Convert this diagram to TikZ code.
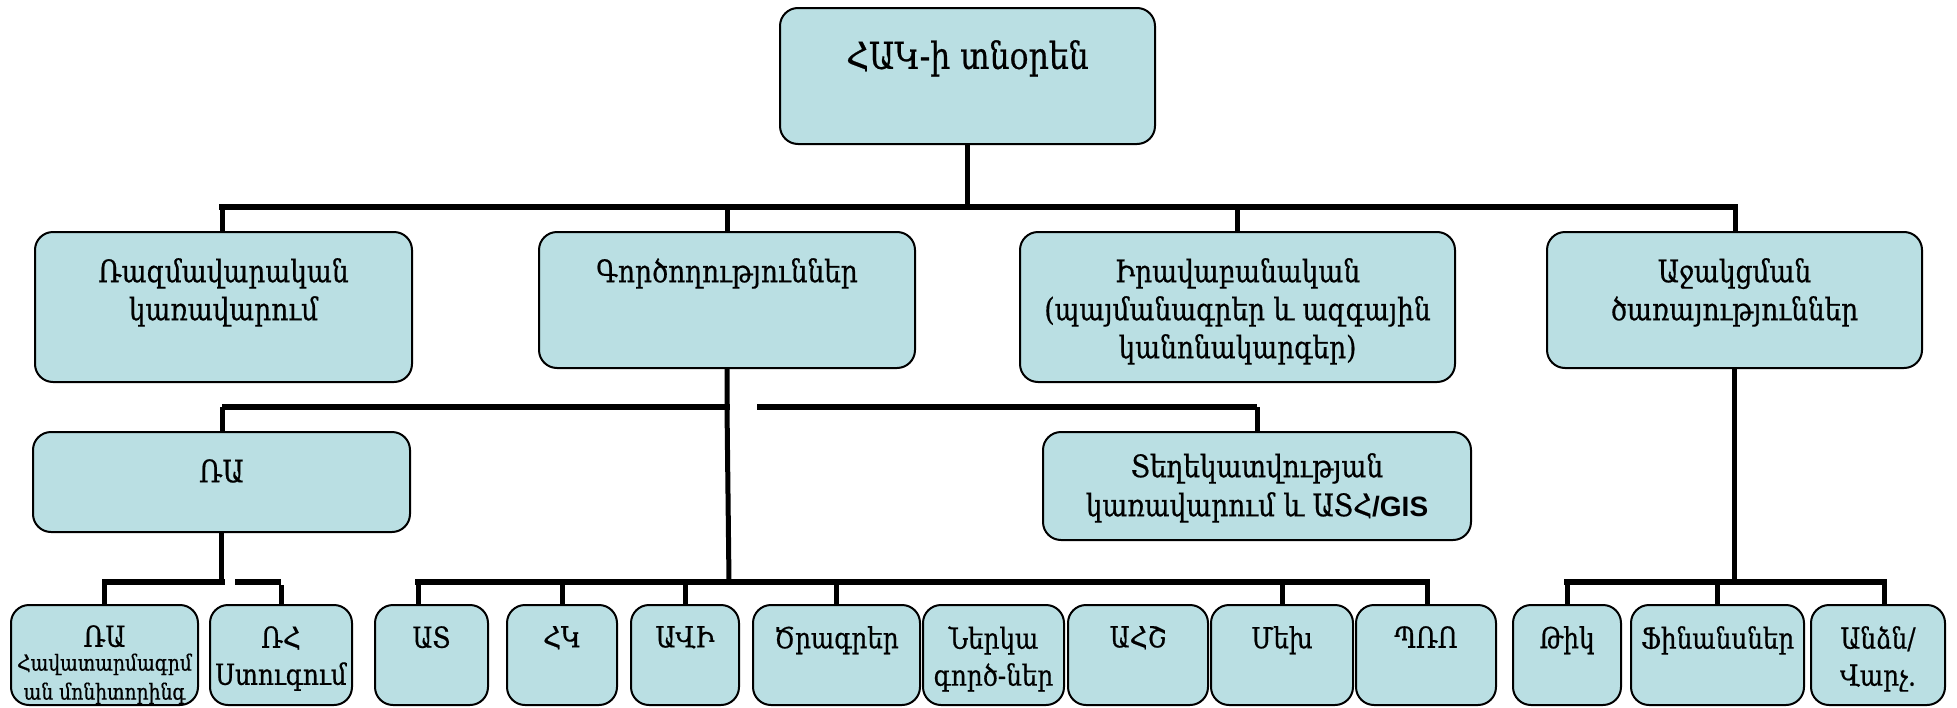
\documentclass[tikz,border=0pt]{standalone}
\usepackage{fontspec}
\setmainfont{DejaVu Serif}[FakeStretch=0.85,FakeBold=0.6]
\newfontfamily\gisfont{Liberation Sans}
\definecolor{boxfill}{RGB}{186,223,227}
\begin{document}
\begin{tikzpicture}[x=1pt,y=-1pt,
  box/.style={draw=black, line width=2pt, fill=boxfill, rounded corners=18pt, inner sep=0pt},
  lbl/.style={align=center, inner sep=0pt, font=\fontsize{31}{38}\selectfont},
  slbl/.style={align=center, inner sep=0pt, font=\fontsize{29}{37}\selectfont},
  tlbl/.style={align=center, inner sep=0pt, font=\fontsize{22}{29}\selectfont},
  conn/.style={line width=5pt},
  bar/.style={line width=6pt}]
\useasboundingbox (0,0) rectangle (1957,707);
% boxes
\node[box, minimum width=375, minimum height=136] (top) at (967.5,76) {};
\node[box, minimum width=377, minimum height=150] (razm) at (223.5,307) {};
\node[box, minimum width=376, minimum height=136] (gorc) at (727,300) {};
\node[box, minimum width=435, minimum height=150] (irav) at (1237.5,307) {};
\node[box, minimum width=375, minimum height=136] (ajak) at (1734.5,300) {};
\node[box, minimum width=377, minimum height=100] (ra) at (221.5,482) {};
\node[box, minimum width=428, minimum height=108] (tegh) at (1257,486) {};
\node[box, minimum width=187, minimum height=100] (ras) at (104.5,655) {};
\node[box, minimum width=142, minimum height=100] (rh) at (281,655) {};
\node[box, minimum width=113, minimum height=100] (at) at (431.5,655) {};
\node[box, minimum width=110, minimum height=100] (hk) at (562,655) {};
\node[box, minimum width=108, minimum height=100] (avi) at (685,655) {};
\node[box, minimum width=167, minimum height=100] (tsr) at (836.5,655) {};
\node[box, minimum width=141, minimum height=100] (nerk) at (993.5,655) {};
\node[box, minimum width=140, minimum height=100] (ahsh) at (1138,655) {};
\node[box, minimum width=142, minimum height=100] (mekh) at (1282,655) {};
\node[box, minimum width=140, minimum height=100] (pro) at (1426,655) {};
\node[box, minimum width=108, minimum height=100] (tik) at (1567,655) {};
\node[box, minimum width=173, minimum height=100] (fin) at (1717.5,655) {};
\node[box, minimum width=134, minimum height=100] (anjn) at (1878,655) {};
% labels
\node[lbl, anchor=north, font=\fontsize{37}{44}\selectfont] (top-t) at ([yshift=-33pt]top.north) {ՀԱԿ-ի տնօրեն};
\node[lbl, anchor=north] (razm-t) at ([yshift=-27pt]razm.north) {Ռազմավարական\\կառավարում};
\node[lbl, anchor=north] (gorc-t) at ([yshift=-27pt]gorc.north) {Գործողություններ};
\node[lbl, anchor=north] (irav-t) at ([yshift=-27pt]irav.north) {Իրավաբանական\\(պայմանագրեր և ազգային\\կանոնակարգեր)};
\node[lbl, anchor=north] (ajak-t) at ([yshift=-27pt]ajak.north) {Աջակցման\\ծառայություններ};
\node[lbl, anchor=north] (ra-t) at ([yshift=-28pt]ra.north) {ՌԱ};
\node[lbl, anchor=north, font=\fontsize{31}{39}\selectfont] (tegh-t) at ([yshift=-22pt]tegh.north) {Տեղեկատվության\\կառավարում և ԱՏՀ{\gisfont\bfseries\fontsize{28}{39}\selectfont/GIS}};
\node[slbl, anchor=north] (ras-t) at ([yshift=-21pt]ras.north) {ՌԱ};
\node[tlbl, anchor=north] (ras-t2) at ([yshift=-6pt]ras-t.south) {Հավատարմագրմ\\ան մոնիտորինգ};
\node[slbl, anchor=north] (rh-t) at ([yshift=-22pt]rh.north) {ՌՀ\\Ստուգում};
\node[slbl, anchor=north] (at-t) at ([yshift=-22pt]at.north) {ԱՏ};
\node[slbl, anchor=north] (hk-t) at ([yshift=-22pt]hk.north) {ՀԿ};
\node[slbl, anchor=north] (avi-t) at ([yshift=-22pt]avi.north) {ԱՎԻ};
\node[slbl, anchor=north] (tsr-t) at ([yshift=-22pt]tsr.north) {Ծրագրեր};
\node[slbl, anchor=north] (nerk-t) at ([yshift=-22pt]nerk.north) {Ներկա\\գործ-ներ};
\node[slbl, anchor=north] (ahsh-t) at ([yshift=-22pt]ahsh.north) {ԱՀՇ};
\node[slbl, anchor=north] (mekh-t) at ([yshift=-22pt]mekh.north) {Մեխ};
\node[slbl, anchor=north] (pro-t) at ([yshift=-22pt]pro.north) {ՊՌՈ};
\node[slbl, anchor=north] (tik-t) at ([yshift=-22pt]tik.north) {Թիկ};
\node[slbl, anchor=north] (fin-t) at ([yshift=-22pt]fin.north) {Ֆինանսներ};
\node[slbl, anchor=north] (anjn-t) at ([yshift=-22pt]anjn.north) {Անձն/\\Վարչ.};
% junction coordinates
\coordinate (j1) at (967.5,207);
\coordinate (b1l) at (222,207);
\coordinate (b1r) at (1735,207);
\coordinate (j2) at (727,407);
\coordinate (b2l) at (222,407);
\coordinate (b3l) at (757,407);
\coordinate (b3r) at (1257,407);
\coordinate (j3) at (729,582);
\coordinate (b4l) at (418,582);
\coordinate (b4r) at (1427,582);
\coordinate (j4) at (221.5,582);
\coordinate (b5l) at (104.5,582);
\coordinate (b6l) at (235,582);
\coordinate (j5) at (1734.5,582);
\coordinate (b7l) at (1567,582);
\coordinate (b7r) at (1884,582);
% connectors
\draw[conn] (top.south) -- (j1);
\draw[bar, line cap=rect] (b1l) -- (b1r);
\draw[conn] (b1l) -- (b1l |- razm.north);
\draw[conn] (gorc.north |- b1l) -- (gorc.north);
\draw[conn] (irav.north |- b1l) -- (irav.north);
\draw[conn] (b1r) -- (b1r |- ajak.north);
\draw[conn] (gorc.south) -- (j2) -- (j3);
\draw[bar] (b2l) -- ([xshift=2.5pt]j2);
\draw[conn] (b2l) -- (b2l |- ra.north);
\draw[bar] (b3l) -- (b3r);
\draw[conn] (b3r) -- (tegh.north);
\draw[bar, line cap=rect] (b4l) -- (b4r);
\draw[conn] (b4l) -- (b4l |- at.north);
\draw[conn] (hk.north |- b4l) -- (hk.north);
\draw[conn] (avi.north |- b4l) -- (avi.north);
\draw[conn] (tsr.north |- b4l) -- (tsr.north);
\draw[conn] (mekh.north |- b4l) -- (mekh.north);
\draw[conn] (b4r) -- (b4r |- pro.north);
\draw[conn] (ra.south) -- (j4);
\draw[bar, line cap=rect] (b5l) -- (j4);
\draw[conn] (b5l) -- (ras.north);
\draw[bar] (b6l) -- (rh.north |- b6l);
\draw[conn] ([yshift=-3pt]rh.north |- b6l) -- (rh.north);
\draw[conn] (ajak.south) -- (j5);
\draw[bar, line cap=rect] (b7l) -- (b7r);
\draw[conn] (b7l) -- (tik.north);
\draw[conn] (fin.north |- b7l) -- (fin.north);
\draw[conn] (b7r) -- (b7r |- anjn.north);
\end{tikzpicture}
\end{document}
